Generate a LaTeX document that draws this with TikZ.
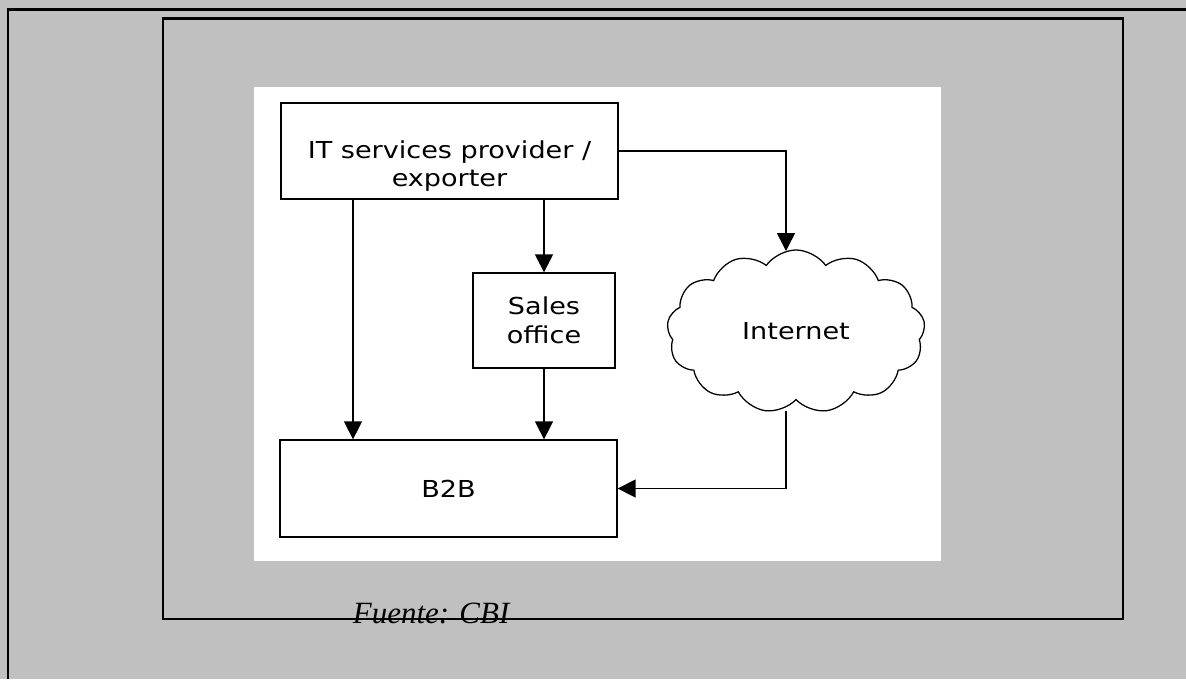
\documentclass[tikz,border=0pt]{standalone}
\usepackage{fontspec}
\usetikzlibrary{arrows.meta,shapes.symbols}
\newfontfamily\chartfont[FakeStretch=1.16]{DejaVu Sans}
\newfontfamily\notefont{Liberation Serif}
\definecolor{pagegray}{HTML}{C0C0C0}

\begin{document}
\begin{tikzpicture}[x=0.025cm,y=-0.025cm,
  box/.style={draw=black,line width=0.9pt,fill=white,inner sep=0pt},
  conn/.style={draw=black,line width=1.1pt,-{Triangle[length=0.45cm,width=0.45cm]}},
  every node/.append style={font=\chartfont\fontsize{16.6}{20.5}\selectfont}]
\useasboundingbox (0,0) rectangle (1186,679);
\fill [pagegray] (0,0) rectangle (1186,679);
\draw [line width=2pt] (8,679) -- (8,9.5) -- (1186,9.5);
\draw [line width=1.5pt] (163,18.5) rectangle (1123,619);
\fill [white] (254,87) rectangle (941,561);
\node [box,minimum width=8.425cm,minimum height=2.4cm] (it) at (449.5,151) {};
\node [align=center] (itlbl) at ([yshift=-0.375cm]it.center) {IT services provider /\\exporter};
\node [box,minimum width=3.55cm,minimum height=2.375cm,align=center] (sales) at (544,320.5) {Sales\\office};
\node [box,minimum width=8.425cm,minimum height=2.425cm] (b2b) at (448.5,488.5) {B2B};
\node [cloud,draw=black,line width=0.9pt,fill=white,cloud puffs=13,cloud puff arc=110,aspect=1.58,inner sep=0pt,minimum width=6.45cm,minimum height=4.075cm] (net) at (796,331.5) {Internet};
\coordinate (nettop) at (786,251);
\coordinate (netbot) at (786,411);
\coordinate (leftx) at (353,0);
\draw [conn] (it.south -| leftx) -- (b2b.north -| leftx);
\draw [conn] (it.south -| sales.north) -- (sales.north);
\draw [conn] (sales.south) -- (b2b.north -| sales.south);
\draw [conn] (it.east) -| (nettop);
\draw [conn] (netbot) |- (b2b.east);
\node [font=\notefont\itshape\fontsize{22}{26}\selectfont,anchor=base west] (src) at (348,623) {Fuente: CBI};
\end{tikzpicture}
\end{document}
